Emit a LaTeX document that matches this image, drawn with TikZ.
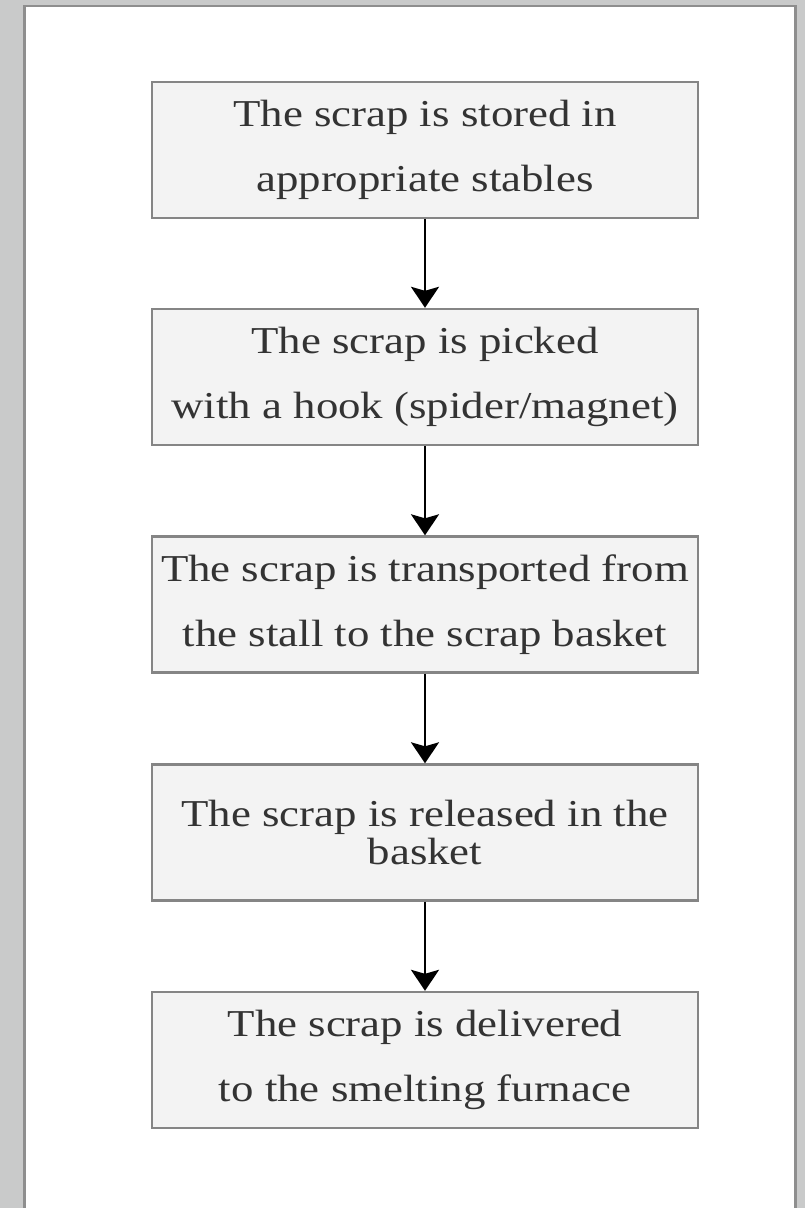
\documentclass[tikz,border=0pt]{standalone}
\usepackage{fontspec}
\setmainfont{Liberation Serif}[FakeStretch=1.18]
\usetikzlibrary{arrows.meta}
\definecolor{bggray}{HTML}{C9CACA}
\definecolor{shadowgray}{HTML}{8E8E8E}
\definecolor{boxfill}{HTML}{F3F3F3}
\definecolor{boxline}{HTML}{858585}
\definecolor{txt}{HTML}{333333}
\tikzset{
  stepbox/.style={draw=boxline, line width=2.4pt, fill=boxfill, minimum width=546pt, minimum height=136pt, inner sep=0pt, align=center, text=txt, font=\fontsize{38}{65}\selectfont},
  tightbox/.style={stepbox, font=\fontsize{38}{38}\selectfont},
  flow/.style={draw=black, line width=2pt, -{Stealth[length=21pt, width=28pt, inset=4pt]}}
}
\begin{document}
\begin{tikzpicture}[x=1pt, y=-1pt]
\useasboundingbox (0,0) rectangle (805,1208);
\fill[bggray] (0,0) rectangle (805,1208);
\fill[shadowgray] (22.5,5) rectangle (797,1212);
\fill[white] (25.5,6.5) rectangle (794,1212);
\node[stepbox] (b1) at (425,150) {The scrap is stored in\\appropriate stables};
\node[stepbox] (b2) at (425,377) {The scrap is picked\\with a hook (spider/magnet)};
\node[stepbox] (b3) at (425,604.5) {The scrap is transported from\\the stall to the scrap basket};
\node[tightbox] (b4) at (425,832.5) {The scrap is released in the\\basket};
\node[stepbox] (b5) at (425,1060) {The scrap is delivered\\to the smelting furnace};
\draw[flow] (b1.south) -- (b2.north);
\draw[flow] (b2.south) -- (b3.north);
\draw[flow] (b3.south) -- (b4.north);
\draw[flow] (b4.south) -- (b5.north);
\end{tikzpicture}
\end{document}
